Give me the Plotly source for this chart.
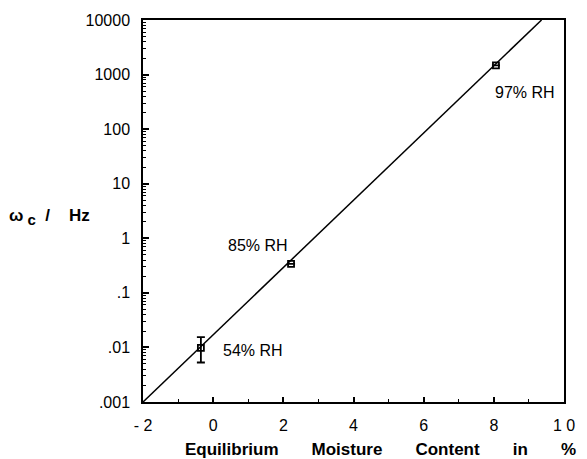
import numpy as np
import plotly.graph_objects as go

# data
emc = [-0.35, 2.22, 8.06]          # Equilibrium moisture content (%)
omega_c = [0.0098, 0.34, 1480]     # omega_c (Hz)
err_plus = [0.0057, 0, 0]
err_minus = [0.0045, 0, 0]
labels = ["54% RH", "85% RH", "97% RH"]

fit_x = [-2, 9.36]
fit_y = [0.001, 10000]

ytickvals = [0.001, 0.01, 0.1, 1, 10, 100, 1000, 10000]
yticktext = [".001", ".01", ".1", "1", "10", "100", "1000", "10000"]
xtickvals = [-2, 0, 2, 4, 6, 8, 10]
xticktext = ["- 2", "0", "2", "4", "6", "8", "1 0"]

label_shift = [(52, -3), (-33, 18), (29, -27)]

FONT = "Liberation Sans, Arial, sans-serif"

fig = go.Figure()
# invisible helper trace on overlay axes that carry the minor ticks
fig.add_trace(go.Scatter(x=fit_x, y=fit_y, mode="lines", xaxis="x2", yaxis="y2",
                         line=dict(color="rgba(0,0,0,0)", width=0),
                         showlegend=False, hoverinfo="skip"))
fig.add_trace(go.Scatter(x=fit_x, y=fit_y, mode="lines",
                         line=dict(color="black", width=1.5),
                         showlegend=False, hoverinfo="skip"))
fig.add_trace(go.Scatter(x=emc, y=omega_c, mode="markers",
                         marker=dict(symbol="square-open", size=6, color="black",
                                     line=dict(width=1.8)),
                         error_y=dict(type="data", array=err_plus, arrayminus=err_minus,
                                      color="black", thickness=1.8, width=4),
                         showlegend=False))

for xv, yv, lab, (dx, dy) in zip(emc, omega_c, labels, label_shift):
    fig.add_annotation(x=xv, y=np.log10(yv), xref="x", yref="y", text=lab,
                       showarrow=False, xshift=dx, yshift=dy,
                       font=dict(family=FONT, size=16, color="black"))

fig.add_annotation(x=-0.322, y=0.485, xref="paper", yref="paper",
                   xanchor="left", yanchor="middle", showarrow=False,
                   text="<b>ω<sub><span style='font-size:15px'> c</span></sub>  /    Hz</b>",
                   font=dict(family=FONT, size=17, color="black"))
fig.add_annotation(x=0.565, y=-0.125, xref="paper", yref="paper",
                   xanchor="center", yanchor="middle", showarrow=False,
                   text="<b>Equilibrium       Moisture       Content       in       %</b>",
                   font=dict(family=FONT, size=17, color="black"))

fig.update_xaxes(range=[-2, 10], tickvals=xtickvals, ticktext=xticktext,
                 ticks="inside", ticklen=5, tickwidth=1.5, tickcolor="black",
                 showline=True, linecolor="black", linewidth=1.5, mirror=True,
                 showgrid=False, zeroline=False, ticklabelstandoff=8,
                 tickfont=dict(family=FONT, size=16, color="black"))
fig.update_yaxes(type="log", range=[-3, 4], tickvals=ytickvals, ticktext=yticktext,
                 ticks="inside", ticklen=6, tickwidth=1.5, tickcolor="black",
                 showline=True, linecolor="black", linewidth=1.5, mirror=True,
                 showgrid=False, zeroline=False, ticklabelstandoff=8,
                 tickfont=dict(family=FONT, size=16, color="black"))

fig.update_layout(
    width=587, height=459,
    margin=dict(l=143, r=12, t=15, b=57),
    plot_bgcolor="white", paper_bgcolor="white",
    font=dict(family=FONT, color="black"),
    xaxis2=dict(overlaying="x", anchor="y", side="bottom", range=[-2, 10],
                tickmode="linear", tick0=-2, dtick=1, ticks="inside", ticklen=3,
                tickwidth=1.2, tickcolor="black", showticklabels=False,
                showline=False, showgrid=False, zeroline=False),
    yaxis2=dict(overlaying="y", anchor="x", side="left", type="log", range=[-3, 4],
                dtick="D1", ticks="inside", ticklen=3, tickwidth=1.2,
                tickcolor="black", showticklabels=False,
                showline=False, showgrid=False, zeroline=False),
)

fig.write_html("out.html")
